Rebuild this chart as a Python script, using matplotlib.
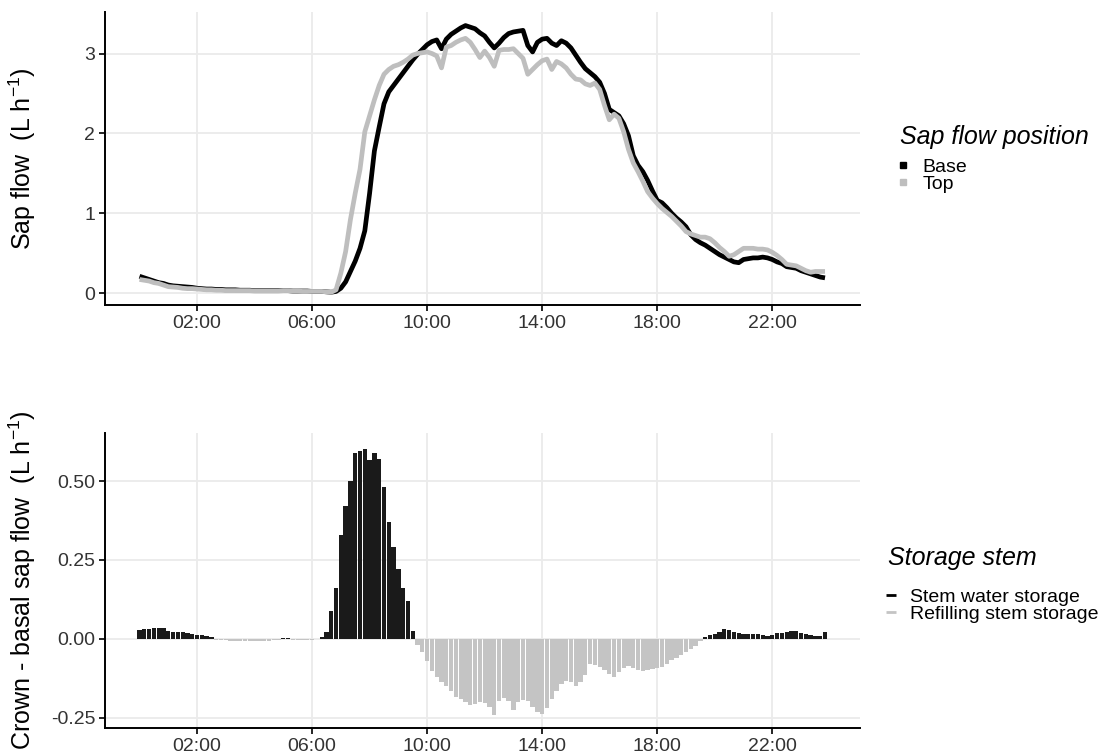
import numpy as np
import matplotlib
matplotlib.use("Agg")
import matplotlib.pyplot as plt
from matplotlib.lines import Line2D

plt.rcParams['font.family'] = ['Liberation Sans', 'DejaVu Sans']
plt.rcParams['mathtext.fontset'] = 'custom'
plt.rcParams['mathtext.rm'] = 'Liberation Sans'
plt.rcParams['mathtext.it'] = 'Liberation Sans:italic'

# 10-minute steps through the day (hours)
hours = np.arange(144) / 6.0

# sap flow at the stem base (L h-1)
base = [0.21, 0.19, 0.17, 0.15, 0.13, 0.12,
        0.10, 0.09, 0.085, 0.08, 0.075, 0.07,
        0.06, 0.055, 0.05, 0.05, 0.045, 0.045,
        0.04, 0.04, 0.04, 0.035, 0.035, 0.035,
        0.03, 0.03, 0.03, 0.03, 0.03, 0.03,
        0.03, 0.03, 0.025, 0.025, 0.025, 0.025,
        0.02, 0.02, 0.02, 0.015, 0.01, 0.02,
        0.06, 0.14, 0.27, 0.40, 0.56, 0.78,
        1.25, 1.78, 2.08, 2.37, 2.52, 2.60,
        2.68, 2.76, 2.84, 2.92, 2.99, 3.05,
        3.11, 3.15, 3.17, 3.06, 3.18, 3.24,
        3.28, 3.32, 3.35, 3.33, 3.31, 3.26,
        3.22, 3.14, 3.07, 3.13, 3.20, 3.25,
        3.27, 3.28, 3.29, 3.10, 3.02, 3.14,
        3.18, 3.19, 3.13, 3.10, 3.16, 3.13,
        3.07, 2.98, 2.89, 2.81, 2.76, 2.71,
        2.64, 2.50, 2.30, 2.26, 2.22, 2.12,
        1.97, 1.72, 1.60, 1.52, 1.41, 1.28,
        1.16, 1.13, 1.07, 1.00, 0.94, 0.89,
        0.83, 0.73, 0.67, 0.63, 0.60, 0.56,
        0.52, 0.48, 0.45, 0.42, 0.39, 0.38,
        0.42, 0.43, 0.44, 0.44, 0.45, 0.44,
        0.42, 0.39, 0.37, 0.33, 0.32, 0.31,
        0.28, 0.26, 0.24, 0.22, 0.20, 0.19]

# sap flow in the crown (L h-1)
top = [0.17, 0.16, 0.15, 0.13, 0.12, 0.10,
       0.08, 0.075, 0.07, 0.06, 0.055, 0.055,
       0.05, 0.045, 0.04, 0.04, 0.035, 0.035,
       0.03, 0.03, 0.03, 0.03, 0.03, 0.03,
       0.025, 0.025, 0.025, 0.025, 0.025, 0.025,
       0.03, 0.03, 0.025, 0.025, 0.02, 0.02,
       0.02, 0.02, 0.02, 0.015, 0.01, 0.04,
       0.25, 0.52, 0.92, 1.25, 1.55, 2.02,
       2.22, 2.42, 2.60, 2.74, 2.80, 2.84,
       2.86, 2.89, 2.93, 2.98, 3.00, 3.01,
       3.02, 3.00, 2.97, 2.82, 3.08, 3.10,
       3.14, 3.17, 3.19, 3.14, 3.05, 2.95,
       3.03, 2.95, 2.84, 3.04, 3.05, 3.05,
       3.06, 3.00, 2.94, 2.74, 2.80, 2.86,
       2.91, 2.93, 2.80, 2.90, 2.87, 2.82,
       2.74, 2.68, 2.67, 2.62, 2.60, 2.63,
       2.55, 2.35, 2.17, 2.24, 2.19, 2.02,
       1.80, 1.63, 1.52, 1.40, 1.27, 1.19,
       1.12, 1.06, 1.01, 0.96, 0.90, 0.84,
       0.77, 0.74, 0.72, 0.70, 0.70, 0.68,
       0.63, 0.57, 0.52, 0.46, 0.48, 0.52,
       0.56, 0.56, 0.56, 0.55, 0.55, 0.54,
       0.51, 0.47, 0.42, 0.36, 0.35, 0.34,
       0.31, 0.28, 0.26, 0.27, 0.27, 0.27]

# crown - basal sap flow (L h-1)
diff = [0.028, 0.030, 0.032, 0.034, 0.036, 0.034,
        0.025, 0.023, 0.022, 0.021, 0.019, 0.016,
        0.012, 0.013, 0.010, 0.007, -0.002, -0.003,
        -0.004, -0.005, -0.006, -0.007, -0.008, -0.008,
        -0.007, -0.006, -0.005, -0.005, -0.004, -0.003,
        0.002, 0.003, -0.002, -0.003, -0.003, -0.002,
        -0.002, -0.001, 0.005, 0.022, 0.09, 0.16,
        0.33, 0.42, 0.50, 0.588, 0.595, 0.60,
        0.565, 0.59, 0.57, 0.48, 0.37, 0.29,
        0.22, 0.16, 0.12, 0.025, -0.02, -0.04,
        -0.07, -0.10, -0.122, -0.135, -0.15, -0.165,
        -0.185, -0.19, -0.20, -0.21, -0.207, -0.20,
        -0.203, -0.215, -0.24, -0.195, -0.187, -0.195,
        -0.225, -0.20, -0.193, -0.198, -0.215, -0.232,
        -0.237, -0.218, -0.19, -0.165, -0.142, -0.133,
        -0.135, -0.148, -0.135, -0.115, -0.08, -0.083,
        -0.09, -0.097, -0.11, -0.122, -0.105, -0.093,
        -0.087, -0.092, -0.098, -0.103, -0.099, -0.096,
        -0.092, -0.088, -0.078, -0.066, -0.059, -0.05,
        -0.042, -0.033, -0.022, -0.008, 0.006, 0.012,
        0.016, 0.022, 0.030, 0.027, 0.022, 0.019,
        0.017, 0.016, 0.015, 0.015, 0.013, 0.010,
        0.012, 0.018, 0.020, 0.023, 0.025, 0.026,
        0.020, 0.016, 0.012, 0.010, 0.009, 0.021]

tick_hours = [2, 6, 10, 14, 18, 22]
tick_labels = ["02:00", "06:00", "10:00", "14:00", "18:00", "22:00"]

W, H = 1107, 755
fig = plt.figure(figsize=(W / 100, H / 100), dpi=100)
ax1 = fig.add_axes([105 / W, 1 - 305 / H, 755 / W, 293 / H])
ax2 = fig.add_axes([105 / W, 1 - 728 / H, 755 / W, 295 / H])


def style(ax):
    for s in ["top", "right"]:
        ax.spines[s].set_visible(False)
    for s in ["left", "bottom"]:
        ax.spines[s].set_linewidth(1.4)
        ax.spines[s].set_color("black")
    ax.grid(True, color="#ebebeb", linewidth=1.3)
    ax.set_axisbelow(True)
    ax.set_xticks(tick_hours)
    ax.set_xticklabels(tick_labels)
    ax.set_xlim(-1.2, 25.05)
    ax.tick_params(length=4, width=1.2, labelsize=14, labelcolor="#333333", pad=3)


style(ax1)
ax1.plot(hours, base, color="black", lw=3.4, solid_capstyle="butt", zorder=3)
ax1.plot(hours, top, color="#bebebe", lw=3.4, solid_capstyle="butt", zorder=3)
ax1.set_ylim(-0.15, 3.52)
ax1.set_yticks([0, 1, 2, 3])
ax1.set_ylabel(r"Sap flow  (L h$^{-1}$)", fontsize=18)
ax1.yaxis.set_label_coords(-0.089, 0.5)

style(ax2)
d = np.array(diff)
pos = d >= 0
ax2.bar(hours[pos], d[pos], width=0.15, color="#1a1a1a", linewidth=0, zorder=3)
ax2.bar(hours[~pos], d[~pos], width=0.15, color="#c4c4c4", linewidth=0, zorder=3)
ax2.set_ylim(-0.282, 0.652)
ax2.set_yticks([-0.25, 0, 0.25, 0.5])
ax2.set_yticklabels(["-0.25", "0.00", "0.25", "0.50"])
ax2.set_ylabel(r"Crown - basal sap flow  (L h$^{-1}$)", fontsize=18)
ax2.yaxis.set_label_coords(-0.089, 0.5)

# legend titles as separate texts, entries as legends
fig.text(900 / W, 1 - 137 / H, "Sap flow position", fontsize=18, style="italic",
         ha="left", va="center")
fig.text(888 / W, 1 - 558 / H, "Storage stem", fontsize=18, style="italic",
         ha="left", va="center")

h1 = [Line2D([], [], color="black", lw=0, marker="s", markersize=5),
      Line2D([], [], color="#bebebe", lw=0, marker="s", markersize=5)]
fig.legend(h1, ["Base", "Top"], loc="upper left",
           bbox_to_anchor=(897 / W, 1 - 158 / H), borderpad=0, borderaxespad=0,
           frameon=False, fontsize=14, labelspacing=0.0,
           handlelength=0.6, handletextpad=0.7)

h2 = [Line2D([], [], color="black", lw=0, marker="_", markersize=7, mew=2),
      Line2D([], [], color="#c4c4c4", lw=0, marker="_", markersize=7, mew=2)]
fig.legend(h2, ["Stem water storage", "Refilling stem storage"], loc="upper left",
           bbox_to_anchor=(885 / W, 1 - 588 / H), borderpad=0, borderaxespad=0,
           frameon=False, fontsize=14, labelspacing=0.0,
           handlelength=0.6, handletextpad=0.7)

fig.savefig("out.png", dpi=100)
